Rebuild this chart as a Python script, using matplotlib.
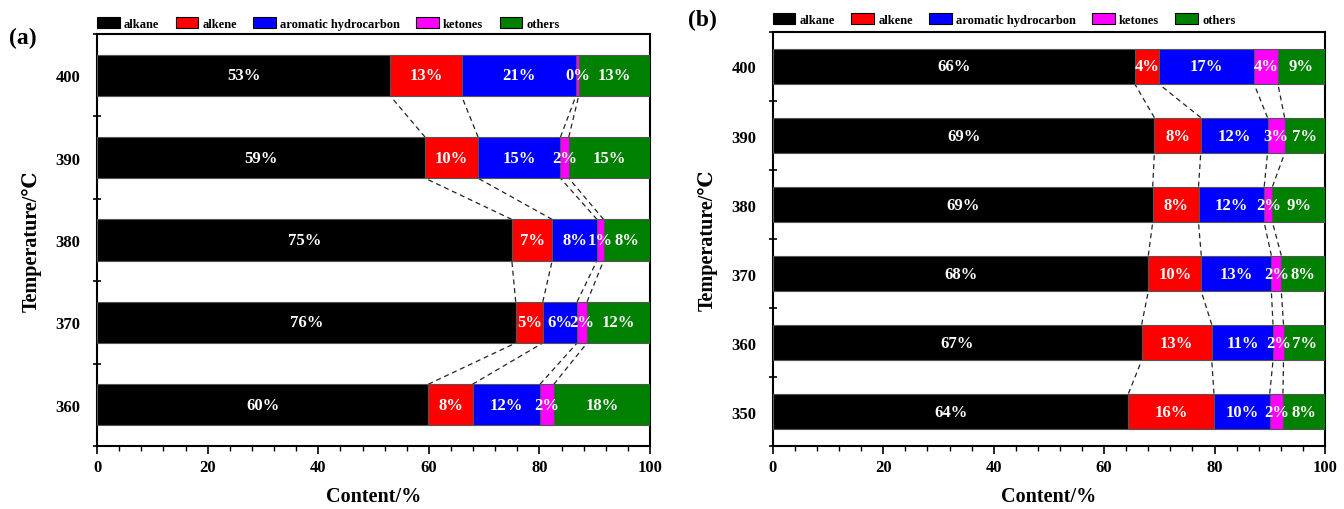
import matplotlib
matplotlib.use("Agg")
import matplotlib.pyplot as plt
import numpy as np
from matplotlib.ticker import MultipleLocator, FixedLocator

plt.rcParams['font.family'] = ['Liberation Serif', 'DejaVu Serif']
plt.rcParams['font.weight'] = 'bold'

categories = ["alkane", "alkene", "aromatic hydrocarbon", "ketones", "others"]
colors = ["#000000", "#ff0000", "#0000ff", "#ff00ff", "#008000"]

# Panel (a): temperatures bottom -> top
temps_a = ["360", "370", "380", "390", "400"]
alkane_a = [59.9, 75.7, 75.0, 59.3, 53.0]
alkene_a = [8.0, 4.9, 7.3, 9.6, 12.9]
aromatic_a = [12.2, 6.2, 8.1, 14.9, 20.7]
ketones_a = [2.5, 1.8, 1.2, 1.5, 0.5]
others_a = [17.4, 11.4, 8.4, 14.7, 12.9]
labels_a = [
    ["60%", "8%", "12%", "2%", "18%"],
    ["76%", "5%", "6%", "2%", "12%"],
    ["75%", "7%", "8%", "1%", "8%"],
    ["59%", "10%", "15%", "2%", "15%"],
    ["53%", "13%", "21%", "0%", "13%"],
]

# Panel (b)
temps_b = ["350", "360", "370", "380", "390", "400"]
alkane_b = [64.4, 66.8, 68.0, 68.8, 69.1, 65.6]
alkene_b = [15.5, 12.7, 9.6, 8.3, 8.4, 4.4]
aromatic_b = [10.1, 11.1, 12.7, 11.9, 12.1, 17.2]
ketones_b = [2.4, 1.9, 1.8, 1.5, 3.1, 4.3]
others_b = [7.6, 7.5, 7.9, 9.5, 7.3, 8.5]
labels_b = [
    ["64%", "16%", "10%", "2%", "8%"],
    ["67%", "13%", "11%", "2%", "7%"],
    ["68%", "10%", "13%", "2%", "8%"],
    ["69%", "8%", "12%", "2%", "9%"],
    ["69%", "8%", "12%", "3%", "7%"],
    ["66%", "4%", "17%", "4%", "9%"],
]

fig = plt.figure(figsize=(13.44, 5.10), dpi=100)
ax_a = fig.add_axes([0.0722, 0.1235, 0.4115, 0.8078])
ax_b = fig.add_axes([0.5751, 0.1235, 0.4107, 0.8118])


def draw(ax, temps, series, labels, h, panel, legend_y, label_xy):
    data = np.array(series).T  # rows: temps, cols: categories
    n = len(temps)
    y = np.arange(n)
    left = np.zeros(n)
    handles = []
    for k in range(data.shape[1]):
        b = ax.barh(y, data[:, k], left=left, height=h, color=colors[k],
                    edgecolor="#555555", linewidth=0.8, label=categories[k], zorder=3)
        handles.append(b)
        for i in range(n):
            ax.text(left[i] + data[i, k] / 2, y[i], labels[i][k], color="white",
                    ha="center", va="center", fontsize=12, fontweight="bold", zorder=4)
        left = left + data[:, k]
    cum = np.cumsum(data, axis=1)
    for i in range(n - 1):
        for k in range(4):
            ax.plot([cum[i, k], cum[i + 1, k]], [y[i] + h / 2, y[i + 1] - h / 2],
                    ls=(0, (4, 3)), color="#222222", lw=0.9, zorder=2)
    ax.set_xlim(0, 100)
    ax.set_ylim(-0.5, n - 0.5)
    ax.xaxis.set_major_locator(MultipleLocator(20))
    ax.xaxis.set_minor_locator(MultipleLocator(4))
    ax.set_yticks(y)
    ax.set_yticklabels(temps)
    ax.yaxis.set_minor_locator(FixedLocator(np.arange(-0.5, n, 1.0)))
    ax.tick_params(axis="y", which="major", length=0, labelsize=12, pad=12)
    ax.tick_params(axis="y", which="minor", length=6, direction="inout", width=1.2)
    ax.tick_params(axis="x", which="major", length=6, width=1.2, labelsize=12, direction="out")
    ax.tick_params(axis="x", which="minor", length=3.5, width=1.0, direction="out")
    for lab in ax.get_xticklabels() + ax.get_yticklabels():
        lab.set_fontweight("bold")
    for s in ax.spines.values():
        s.set_linewidth(1.5)
    ax.set_xlabel("Content/%", fontsize=14.5, fontweight="bold", labelpad=8)
    ax.set_ylabel("Temperature/℃", fontsize=14.5, fontweight="bold", labelpad=10)
    leg = ax.legend(handles=handles, loc="lower left", bbox_to_anchor=(0.0, legend_y),
                    ncol=5, frameon=False, fontsize=9, handlelength=1.8, handleheight=1.0,
                    columnspacing=1.3, handletextpad=0.35, borderaxespad=0, borderpad=0)
    for p in leg.get_patches():
        p.set_edgecolor("black")
        p.set_linewidth(0.8)
    fig.text(label_xy[0], label_xy[1], panel, fontsize=17, fontweight="bold", ha="left", va="center")


draw(ax_a, temps_a, [alkane_a, alkene_a, aromatic_a, ketones_a, others_a], labels_a,
     0.5, "(a)", 1.01, (0.007, 0.925))
draw(ax_b, temps_b, [alkane_b, alkene_b, aromatic_b, ketones_b, others_b], labels_b,
     0.52, "(b)", 1.015, (0.512, 0.96))

fig.savefig("out.png", dpi=100)
